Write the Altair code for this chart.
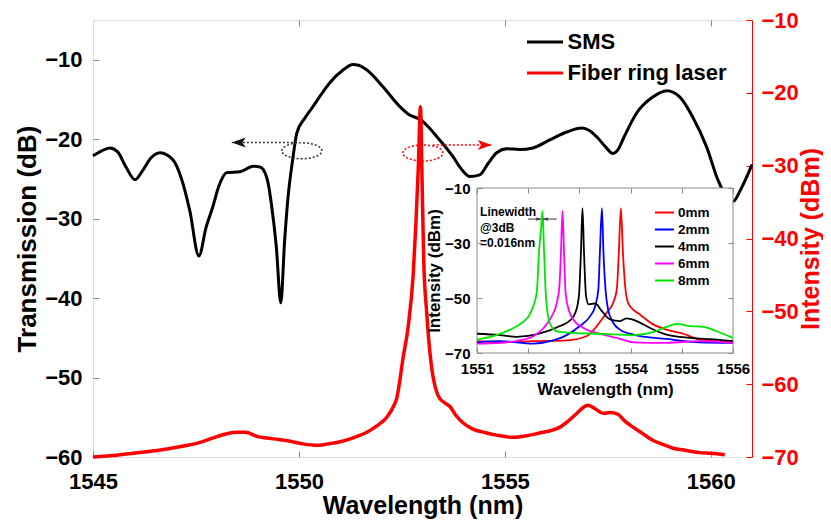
import altair as alt
import pandas as pd

FONT = "Liberation Sans"
GRAY = "#8a8a8a"

# ---------------- main chart data ----------------
sms_nm = [1545.00, 1545.20, 1545.41, 1545.60, 1545.80, 1546.02, 1546.20, 1546.40, 1546.63, 1546.94,
          1547.15, 1547.35, 1547.57, 1547.75, 1547.91, 1548.05, 1548.25, 1548.57, 1548.89, 1549.05,
          1549.13, 1549.25, 1549.34, 1549.45, 1549.56, 1549.65, 1549.73, 1549.85, 1549.95, 1550.15,
          1550.34, 1550.55, 1550.75, 1551.07, 1551.31, 1551.45, 1551.65, 1552.04, 1552.45, 1552.70,
          1552.94, 1553.15, 1553.35, 1553.74, 1553.95, 1554.15, 1554.39, 1554.60, 1554.80, 1555.05,
          1555.35, 1555.68, 1556.09, 1556.50, 1556.87, 1557.05, 1557.23, 1557.45, 1557.62, 1557.75,
          1557.86, 1558.20, 1558.59, 1558.93, 1559.25, 1559.56, 1559.90, 1560.17, 1560.40, 1560.55,
          1560.70, 1560.85, 1561.00]
sms_db = [-22.1, -21.5, -21.1, -21.6, -23.5, -25.1, -24.0, -22.4, -21.7, -22.6,
          -25.0, -29.0, -34.7, -31.0, -28.5, -26.0, -24.2, -24.1, -23.4, -23.5,
          -23.8, -25.5, -28.5, -33.5, -40.6, -33.0, -27.6, -22.5, -19.2, -17.3,
          -15.9, -14.3, -12.9, -11.3, -10.6, -10.7, -11.3, -13.4, -15.9, -17.0,
          -17.5, -18.5, -19.7, -22.2, -23.8, -24.7, -24.5, -23.0, -21.7, -21.2,
          -21.3, -21.1, -20.1, -19.1, -18.6, -18.9, -19.7, -21.0, -21.8, -21.3,
          -20.1, -16.7, -14.7, -13.9, -14.7, -17.2, -21.0, -25.1, -27.4, -27.8,
          -26.6, -25.0, -23.2]

laser_nm = [1545.00, 1545.50, 1545.97, 1546.40, 1546.80, 1547.20, 1547.60, 1547.95, 1548.25, 1548.50,
            1548.70, 1549.00, 1549.22, 1549.50, 1549.85, 1550.10, 1550.44, 1550.70, 1551.00, 1551.30,
            1551.65, 1551.90, 1552.14, 1552.30, 1552.38, 1552.45, 1552.52, 1552.65, 1552.77, 1552.84,
            1552.90, 1552.95, 1552.99, 1553.03, 1553.10, 1553.20, 1553.40, 1553.55, 1553.67, 1553.80,
            1553.98, 1554.20, 1554.56, 1554.80, 1555.19, 1555.50, 1555.85, 1556.10, 1556.34, 1556.55,
            1556.75, 1556.90, 1557.02, 1557.20, 1557.39, 1557.55, 1557.74, 1557.90, 1558.11, 1558.35,
            1558.59, 1558.85, 1559.08, 1559.40, 1559.73, 1560.00, 1560.34]
laser_dbm = [-70.0, -69.8, -69.5, -69.2, -68.9, -68.5, -68.0, -67.3, -66.8, -66.6,
             -66.6, -67.2, -67.4, -67.6, -67.9, -68.2, -68.4, -68.2, -67.9, -67.4,
             -66.6, -65.7, -64.5, -63.0, -61.8, -59.5, -56.7, -52.2, -45.3, -38.0,
             -30.0, -21.9, -32.0, -43.0, -50.0, -56.7, -61.8, -62.6, -63.1, -64.2,
             -65.3, -66.1, -66.7, -67.0, -67.3, -67.1, -66.7, -66.4, -65.9, -65.0,
             -64.0, -63.2, -62.9, -63.4, -64.0, -63.9, -64.1, -65.0, -65.9, -66.8,
             -67.7, -68.3, -68.8, -69.1, -69.4, -69.5, -69.7]

main_series = ["SMS", "Fiber ring laser"]
main_colors = ["#000000", "#ff0000"]

# ---------------- inset data ----------------
inset_labels = ["0mm", "2mm", "4mm", "6mm", "8mm"]
inset_colors = ["#ff0000", "#0000ff", "#000000", "#ff00ff", "#00e600"]

nm_0mm = [1551.00, 1551.45, 1552.10, 1552.75, 1553.14, 1553.34, 1553.53, 1553.66, 1553.73, 1553.77,
          1553.81, 1553.85, 1553.90, 1553.95, 1554.05, 1554.18, 1554.44, 1554.70, 1555.03, 1555.35,
          1555.68, 1556.00]
dbm_0mm = [-65.7, -66.1, -65.7, -65.4, -63.9, -60.2, -55.4, -51.7, -46.9, -33.5,
           -17.3, -33.5, -46.9, -51.7, -54.2, -56.0, -59.6, -61.5, -63.0, -65.1,
           -65.7, -66.1]
nm_2mm = [1551.00, 1551.45, 1552.10, 1552.43, 1552.75, 1553.01, 1553.21, 1553.31, 1553.37, 1553.40,
          1553.44, 1553.47, 1553.51, 1553.56, 1553.66, 1553.79, 1554.05, 1554.70, 1555.35, 1556.00]
dbm_2mm = [-66.1, -65.7, -66.6, -65.7, -63.5, -60.2, -56.6, -52.9, -46.9, -33.5,
           -17.3, -33.5, -46.9, -54.2, -59.0, -61.5, -63.3, -64.9, -66.1, -66.3]
nm_4mm = [1551.00, 1551.45, 1551.78, 1552.23, 1552.62, 1552.82, 1552.92, 1552.99, 1553.03, 1553.06,
          1553.09, 1553.13, 1553.18, 1553.31, 1553.44, 1553.60, 1553.79, 1553.92, 1554.12, 1554.38,
          1554.70, 1555.16, 1555.68, 1556.00]
dbm_4mm = [-63.0, -63.5, -64.1, -62.9, -60.2, -58.1, -55.4, -49.3, -33.5, -17.3,
           -33.5, -49.3, -52.3, -52.0, -54.8, -57.8, -58.4, -57.4, -58.4, -60.9,
           -63.3, -64.5, -65.1, -65.7]
nm_6mm = [1551.00, 1551.45, 1551.84, 1552.10, 1552.30, 1552.46, 1552.56, 1552.61, 1552.64, 1552.67,
          1552.70, 1552.73, 1552.79, 1552.88, 1553.08, 1553.40, 1553.73, 1554.05, 1554.70, 1555.35,
          1556.00]
dbm_6mm = [-66.6, -66.3, -65.4, -63.9, -60.9, -56.6, -51.7, -45.6, -33.5, -18.3,
           -33.5, -48.1, -54.2, -57.8, -60.9, -63.0, -64.5, -66.1, -66.3, -65.7,
           -66.3]
nm_8mm = [1551.00, 1551.32, 1551.65, 1551.88, 1552.01, 1552.10, 1552.17, 1552.21, 1552.25, 1552.28,
          1552.31, 1552.35, 1552.42, 1552.56, 1552.88, 1553.40, 1554.05, 1554.44, 1554.70, 1554.90,
          1555.16, 1555.42, 1555.68, 1556.00]
dbm_8mm = [-65.1, -63.9, -61.5, -59.0, -56.6, -52.9, -47.5, -33.5, -25.0, -18.3,
           -33.5, -50.5, -59.0, -62.1, -62.7, -63.0, -63.5, -62.4, -60.5, -59.4,
           -60.2, -60.5, -62.1, -64.5]

# ---------------- ticks / annotations ----------------
main_x_ticks = [1545, 1550, 1555, 1560]
top_x_ticks = [1550, 1555, 1560]
left_y_ticks = [-60, -50, -40, -30, -20, -10]
right_y_ticks = [-70, -60, -50, -40, -30, -20, -10]
inset_x_ticks = [1551, 1552, 1553, 1554, 1555, 1556]
inset_y_ticks = [-70, -50, -30, -10]

black_ellipse = {"nm": [1550.07], "db": [-21.46]}
black_arrow = {"nm": [1549.95], "nm2": [1548.37], "db": [-20.42]}
red_ellipse = {"nm": [1553.01], "dbm": [-28.26]}
red_arrow = {"nm": [1553.25], "nm2": [1554.68], "dbm": [-27.16]}

inset_box = {"nm": [1551], "nm2": [1556], "dbm": [-70], "dbm2": [-10]}
note_lines = ["Linewidth", "@3dB", "=0.016nm"]
note_nm = [1551.06, 1551.06, 1551.06]
note_dbm = [-18.7, -24.5, -30.0]
lw_arrow_from = [1552.00, 1552.56]
lw_arrow_to = [1552.25, 1552.29]
lw_arrow_dbm = [-21.3, -21.3]
lw_arrow_dir = ["r", "l"]

W, H = 659, 437
X_DOM = [1545, 1561]
YL_DOM = [-60, -5]
YR_DOM = [-70, -10]
IX_DOM = [1551, 1556]
IY_DOM = [-70, -10]
IX_RANGE = [384, 640]
IY_RANGE = [333, 168]

HEAD_LEFT = "M0,0L2,-0.7L1.5,0L2,0.7Z"
HEAD_RIGHT = "M0,0L-2,-0.7L-1.5,0L-2,0.7Z"
ELLIPSE = "M-1,0A1,0.4,0,1,1,1,0A1,0.4,0,1,1,-1,0Z"


def sc(dom, rng=None):
    if rng is None:
        return alt.Scale(domain=dom, nice=False, zero=False)
    return alt.Scale(domain=dom, range=rng, nice=False, zero=False)


bold = dict(labelFont=FONT, labelFontWeight="bold", titleFont=FONT, titleFontWeight="bold")

# ---------------- main layers ----------------
sms_df = pd.DataFrame({"nm": sms_nm, "db": sms_db, "series": "SMS"})
laser_df = pd.DataFrame({"nm": laser_nm, "dbm": laser_dbm})

sms = alt.Chart(sms_df).mark_line(strokeWidth=3, interpolate="monotone").encode(
    x=alt.X("nm:Q", scale=sc(X_DOM), axis=alt.Axis(
        orient="bottom", values=main_x_ticks, format="d", offset=-6, tickSize=6, tickColor=GRAY,
        domain=False, grid=False, labelFlush=False, labelFontSize=22, labelColor="black",
        labelPadding=14, title="Wavelength (nm)", titleFontSize=25, titleColor="black",
        titlePadding=1, **bold)),
    y=alt.Y("db:Q", scale=sc(YL_DOM), axis=alt.Axis(
        orient="left", values=left_y_ticks, offset=-6, tickSize=6, tickColor=GRAY,
        domain=False, grid=False, labelFontSize=22, labelColor="black", labelPadding=11,
        title="Transmission (dB)", titleFontSize=26, titleColor="black", titlePadding=4, **bold)),
    color=alt.Color("series:N", scale=alt.Scale(domain=main_series, range=main_colors),
                    legend=alt.Legend(orient="none", legendX=432.5, legendY=2.5, title=None,
                                      symbolType="stroke", symbolSize=1296, symbolStrokeWidth=3,
                                      labelFont=FONT, labelFontWeight="bold", labelFontSize=22,
                                      labelColor="black", labelLimit=400, labelOffset=3,
                                      rowPadding=-11, padding=0)),
)

laser = alt.Chart(laser_df).mark_line(strokeWidth=3.5, color="#ff0000", interpolate="monotone").encode(
    x=alt.X("nm:Q", scale=sc(X_DOM), axis=alt.Axis(
        orient="top", values=top_x_ticks, offset=-6, tickSize=6, tickColor=GRAY, labels=False,
        domain=False, grid=False, title=None)),
    y=alt.Y("dbm:Q", scale=sc(YR_DOM), axis=alt.Axis(
        orient="right", values=right_y_ticks, offset=-6, tickSize=6, tickColor="#ff0000",
        domain=False, grid=False, labelFontSize=22, labelColor="#ff0000", labelPadding=9,
        title="Intensity (dBm)", titleFontSize=25, titleColor="#ff0000", titlePadding=0,
        titleAngle=270, titleBaseline="top", **bold)),
)

red_ell = alt.Chart(pd.DataFrame(red_ellipse)).mark_point(
    shape=ELLIPSE, size=1600, filled=False, color="#ff0000", strokeWidth=1.5, strokeDash=[2, 2],
    opacity=1).encode(
    x=alt.X("nm:Q", scale=sc(X_DOM), axis=None),
    y=alt.Y("dbm:Q", scale=sc(YR_DOM), axis=alt.Axis(
        orient="right", domain=True, domainColor="#ff0000", domainWidth=1, ticks=False,
        labels=False, grid=False, title=None)),
)

red_arr = alt.Chart(pd.DataFrame(red_arrow)).mark_rule(
    color="#ff0000", strokeWidth=1.6, strokeDash=[2, 2]).encode(
    x=alt.X("nm:Q", scale=sc(X_DOM), axis=None), x2="nm2:Q",
    y=alt.Y("dbm:Q", scale=sc(YR_DOM), axis=None),
)
red_head = alt.Chart(pd.DataFrame(red_arrow)).mark_point(
    shape=HEAD_RIGHT, size=196, filled=True, color="#ff0000", opacity=1).encode(
    x=alt.X("nm2:Q", scale=sc(X_DOM), axis=None),
    y=alt.Y("dbm:Q", scale=sc(YR_DOM), axis=None),
)

blk_ell = alt.Chart(pd.DataFrame(black_ellipse)).mark_point(
    shape=ELLIPSE, size=1600, filled=False, color="#333333", strokeWidth=1.5, strokeDash=[2, 2],
    opacity=1).encode(
    x=alt.X("nm:Q", scale=sc(X_DOM), axis=None),
    y=alt.Y("db:Q", scale=sc(YL_DOM), axis=None),
)
blk_arr = alt.Chart(pd.DataFrame(black_arrow)).mark_rule(
    color="#333333", strokeWidth=1.6, strokeDash=[2, 2]).encode(
    x=alt.X("nm:Q", scale=sc(X_DOM), axis=None), x2="nm2:Q",
    y=alt.Y("db:Q", scale=sc(YL_DOM), axis=None),
)
blk_head = alt.Chart(pd.DataFrame(black_arrow)).mark_point(
    shape=HEAD_LEFT, size=196, filled=True, color="#111111", opacity=1).encode(
    x=alt.X("nm2:Q", scale=sc(X_DOM), axis=None),
    y=alt.Y("db:Q", scale=sc(YL_DOM), axis=None),
)

# ---------------- inset layers ----------------
box = alt.Chart(pd.DataFrame(inset_box)).mark_rect(
    fill="white", stroke=GRAY, strokeWidth=1).encode(
    x=alt.X("nm:Q", scale=sc(IX_DOM, IX_RANGE), axis=alt.Axis(
        orient="top", values=inset_x_ticks, offset=-173, tickSize=5, tickColor=GRAY,
        labels=False, domain=False, grid=False, title=None, zindex=1)),
    x2="nm2:Q",
    y=alt.Y("dbm:Q", scale=sc(IY_DOM, IY_RANGE), axis=alt.Axis(
        orient="right", values=inset_y_ticks, offset=-24, tickSize=5, tickColor=GRAY,
        labels=False, domain=False, grid=False, title=None, zindex=1)),
    y2="dbm2:Q",
)

rows = []
for lab, xs, ys in zip(inset_labels,
                       [nm_0mm, nm_2mm, nm_4mm, nm_6mm, nm_8mm],
                       [dbm_0mm, dbm_2mm, dbm_4mm, dbm_6mm, dbm_8mm]):
    for a, b in zip(xs, ys):
        rows.append({"nm": a, "dbm": b, "len": lab})
inset_df = pd.DataFrame(rows)

inset = alt.Chart(inset_df).mark_line(strokeWidth=1.8, interpolate="monotone").encode(
    x=alt.X("nm:Q", scale=sc(IX_DOM, IX_RANGE), axis=alt.Axis(
        orient="bottom", values=inset_x_ticks, format="d", offset=-109, tickSize=5,
        tickColor=GRAY, domain=False, grid=False, labelFlush=False, labelFontSize=15,
        labelColor="black", labelPadding=8, title="Wavelength (nm)", titleFontSize=17,
        titleColor="black", titlePadding=5, zindex=1, **bold)),
    y=alt.Y("dbm:Q", scale=sc(IY_DOM, IY_RANGE), axis=alt.Axis(
        orient="left", values=inset_y_ticks, offset=-389, tickSize=5, tickColor=GRAY,
        domain=False, grid=False, labelFontSize=15, labelColor="black", labelPadding=7,
        title="Intensity (dBm)", titleFontSize=17, titleColor="black", titlePadding=1,
        zindex=1, **bold)),
    color=alt.Color("len:N", scale=alt.Scale(domain=inset_labels, range=inset_colors),
                    legend=alt.Legend(orient="none", legendX=561, legendY=182, title=None,
                                      symbolType="stroke", symbolSize=361, symbolStrokeWidth=2,
                                      labelFont=FONT, labelFontWeight="bold", labelFontSize=13.5,
                                      labelColor="black", labelOffset=3, rowPadding=-2.5,
                                      padding=0)),
    detail="len:N",
)

note = alt.Chart(pd.DataFrame({"nm": note_nm, "dbm": note_dbm, "t": note_lines})).mark_text(
    font=FONT, fontWeight="bold", fontSize=12, align="left", baseline="middle", color="black").encode(
    x=alt.X("nm:Q", scale=sc(IX_DOM, IX_RANGE), axis=None),
    y=alt.Y("dbm:Q", scale=sc(IY_DOM, IY_RANGE), axis=None),
    text="t:N",
)

lw_df = pd.DataFrame({"a": lw_arrow_from, "b": lw_arrow_to, "dbm": lw_arrow_dbm, "d": lw_arrow_dir})
lw_rule = alt.Chart(lw_df).mark_rule(color="#333333", strokeWidth=1).encode(
    x=alt.X("a:Q", scale=sc(IX_DOM, IX_RANGE), axis=None), x2="b:Q",
    y=alt.Y("dbm:Q", scale=sc(IY_DOM, IY_RANGE), axis=None),
)
lw_head_r = alt.Chart(lw_df[lw_df.d == "r"]).mark_point(
    shape=HEAD_RIGHT, size=30, filled=True, color="#333333", opacity=1).encode(
    x=alt.X("b:Q", scale=sc(IX_DOM, IX_RANGE), axis=None),
    y=alt.Y("dbm:Q", scale=sc(IY_DOM, IY_RANGE), axis=None),
)
lw_head_l = alt.Chart(lw_df[lw_df.d == "l"]).mark_point(
    shape=HEAD_LEFT, size=30, filled=True, color="#333333", opacity=1).encode(
    x=alt.X("b:Q", scale=sc(IX_DOM, IX_RANGE), axis=None),
    y=alt.Y("dbm:Q", scale=sc(IY_DOM, IY_RANGE), axis=None),
)

chart = alt.layer(
    sms, laser, red_ell, red_arr, red_head, blk_ell, blk_arr, blk_head,
    box, inset, note, lw_rule, lw_head_r, lw_head_l,
).resolve_scale(
    x="independent", y="independent", color="independent"
).resolve_axis(
    x="independent", y="independent"
).resolve_legend(
    color="independent"
).properties(
    width=W, height=H,
    autosize=alt.AutoSizeParams(type="none"),
    padding={"left": 85, "top": 12, "right": 71, "bottom": 64},
).configure_view(
    stroke=GRAY, strokeWidth=1
).configure(
    font=FONT, background="white"
)

chart.save("out.html", embed_options={"renderer": "svg", "actions": False})
